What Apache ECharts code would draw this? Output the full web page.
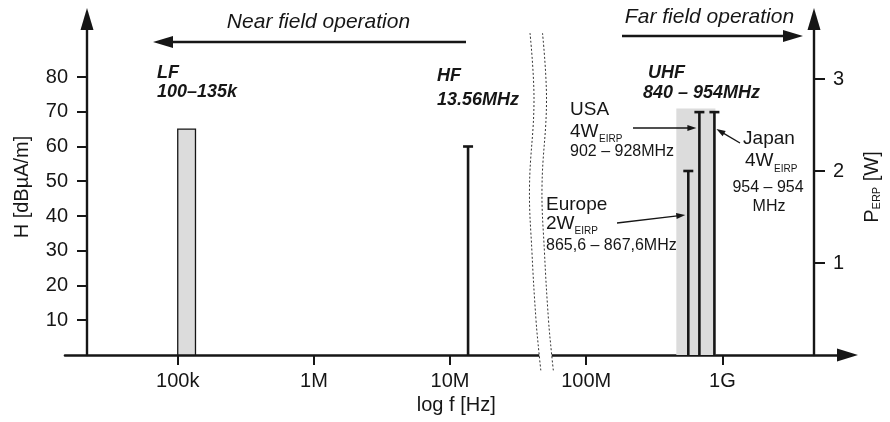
<!DOCTYPE html>
<html><head><meta charset="utf-8">
<script src="https://cdn.jsdelivr.net/npm/echarts@6/dist/echarts.min.js"></script>
<style>html,body{margin:0;padding:0;background:#fff}#c{width:890px;height:422px}</style>
</head><body><div id="c"></div>
<script>
const FONT = '"Liberation Sans", Arial, Helvetica, sans-serif';
const INK = '#161616';

// ---- data ----
const xTickFreqs = [1e5, 1e6, 1e7, 1e8, 1e9];
const xTickLabels = ['100k', '1M', '10M', '100M', '1G'];
const hTicks = [10, 20, 30, 40, 50, 60, 70, 80];
const pTicks = [1, 2, 3];
const lfBand = [100e3, 135e3];      // Hz
const lfField = 65;                 // dBµA/m
const hfFreq = 13.56e6;             // Hz
const hfField = 60;                 // dBµA/m
const uhfBand = [459e6, 889e6];     // Hz (as drawn)
const uhfBandTop = 2.68;            // W
const regions = ['Europe', 'USA', 'Japan'];
const regionFreqs = [562e6, 678e6, 874e6];  // Hz (as drawn)
const regionPower = [2.0, 2.64, 2.64];      // W ERP

const lg = Math.log10;
const chart = echarts.init(document.getElementById('c'), null, {renderer: 'canvas'});

function stem(params, api) {
  const a = api.coord([api.value(0), 0]);
  const b = api.coord([api.value(0), api.value(1)]);
  return {type: 'group', children: [
    {type: 'line', shape: {x1: a[0], y1: a[1], x2: b[0], y2: b[1]}, style: {stroke: INK, lineWidth: 2.6}},
    {type: 'line', shape: {x1: b[0] - 5, y1: b[1], x2: b[0] + 5, y2: b[1]}, style: {stroke: INK, lineWidth: 2.6}}
  ]};
}
function band(fill, stroke) {
  return function (params, api) {
    const a = api.coord([api.value(0), 0]);
    const b = api.coord([api.value(1), api.value(2)]);
    return {type: 'rect', shape: {x: a[0], y: b[1], width: b[0] - a[0], height: a[1] - b[1]},
      style: {fill: fill, stroke: stroke || null, lineWidth: stroke ? 1.3 : 0}};
  };
}
const xTickVals = xTickFreqs.map(lg);

chart.setOption({
  animation: false,
  backgroundColor: '#fff',
  textStyle: {fontFamily: FONT, color: INK},
  grid: {left: 65, right: 40.5, top: 19, bottom: 67},
  xAxis: {
    type: 'value', min: 4.172, max: 9.919,
    name: 'log f [Hz]', nameLocation: 'middle', nameGap: 36,
    nameTextStyle: {fontSize: 20, color: INK, fontFamily: FONT},
    axisLine: {onZero: false, symbol: ['none', 'triangle'], symbolSize: [13, 21], lineStyle: {color: INK, width: 2.6}},
    axisTick: {customValues: xTickVals, length: 10, lineStyle: {color: INK, width: 2}},
    axisLabel: {customValues: xTickVals, margin: 16, fontSize: 20, color: INK, fontFamily: FONT,
      formatter: v => { const i = xTickVals.findIndex(t => Math.abs(t - v) < 1e-6); return i >= 0 ? xTickLabels[i] : ''; }},
    splitLine: {show: false}
  },
  yAxis: [{
    type: 'value', min: 0, max: 96.69, position: 'left', offset: -22,
    name: 'H [dBµA/m]', nameLocation: 'middle', nameGap: 55,
    nameTextStyle: {fontSize: 20, color: INK, fontFamily: FONT},
    axisLine: {show: true, onZero: false, symbol: ['none', 'triangle'], symbolSize: [13, 22], lineStyle: {color: INK, width: 2.4}},
    axisTick: {show: true, customValues: hTicks, length: 10, lineStyle: {color: INK, width: 2}},
    axisLabel: {customValues: hTicks, margin: 19, fontSize: 20, color: INK, fontFamily: FONT},
    splitLine: {show: false}
  }, {
    type: 'value', min: 0, max: 3.652, position: 'right', offset: -33.5,
    name: '{p|P}{s|ERP}{p| [W]}', nameLocation: 'middle', nameGap: 48,
    nameTextStyle: {color: INK, fontFamily: FONT, rich: {
      p: {fontSize: 20, color: INK, fontFamily: FONT},
      s: {fontSize: 11, color: INK, fontFamily: FONT, verticalAlign: 'bottom', lineHeight: 6}
    }},
    axisLine: {show: true, onZero: false, symbol: ['none', 'triangle'], symbolSize: [13, 22], lineStyle: {color: INK, width: 2.4}},
    axisTick: {show: true, customValues: pTicks, length: 11, lineStyle: {color: INK, width: 2}},
    axisLabel: {customValues: pTicks, margin: 19, fontSize: 20, color: INK, fontFamily: FONT},
    splitLine: {show: false}
  }],
  series: [
    {type: 'custom', name: 'UHF band', xAxisIndex: 0, yAxisIndex: 1, z: 1,
      data: [[lg(uhfBand[0]), lg(uhfBand[1]), uhfBandTop]], encode: {x: [0, 1], y: 2},
      renderItem: band('#dcdcdc')},
    {type: 'custom', name: 'LF', xAxisIndex: 0, yAxisIndex: 0, z: 2,
      data: [[lg(lfBand[0]), lg(lfBand[1]), lfField]], encode: {x: [0, 1], y: 2},
      renderItem: band('#dcdcdc', INK)},
    {type: 'custom', name: 'HF', xAxisIndex: 0, yAxisIndex: 0, z: 3,
      data: [[lg(hfFreq), hfField]], encode: {x: 0, y: 1}, renderItem: stem},
    {type: 'custom', name: 'UHF', xAxisIndex: 0, yAxisIndex: 1, z: 3,
      data: regionFreqs.map((f, i) => ({name: regions[i], value: [lg(f), regionPower[i]]})),
      encode: {x: 0, y: 1}, renderItem: stem}
  ]
});

// ---- annotations ----
const px = f => chart.convertToPixel({xAxisIndex: 0}, lg(f));
function arrow(x1, y1, x2, y2, lw, hl, hw) {
  const dx = x2 - x1, dy = y2 - y1, L = Math.hypot(dx, dy), ux = dx / L, uy = dy / L;
  const bx = x2 - ux * hl, by = y2 - uy * hl;
  return [
    {type: 'line', z: 50, shape: {x1: x1, y1: y1, x2: bx + ux, y2: by + uy}, style: {stroke: INK, lineWidth: lw}},
    {type: 'polygon', z: 50, shape: {points: [[x2, y2], [bx - uy * hw, by + ux * hw], [bx + uy * hw, by - ux * hw]]}, style: {fill: INK}}
  ];
}
function txt(text, x, y, size, opt) {
  return {type: 'text', z: 60, x: x, y: y, style: Object.assign({
    text: text, fill: INK, fontSize: size, fontFamily: FONT, align: 'left', verticalAlign: 'middle'}, opt || {})};
}
const BI = {fontWeight: 'bold', fontStyle: 'italic'};
const IT = {fontStyle: 'italic'};
const xEU = px(regionFreqs[0]), xUS = px(regionFreqs[1]), xJP = px(regionFreqs[2]);

// axis break (dotted wavy lines)
const brk = [[530, 33], [534, 100], [529.5, 187], [532, 253], [536, 320], [539, 353], [541, 372]];
const brk2 = brk.map(p => [p[0] + 12.5, p[1]]);
const graphics = [
  {type: 'polygon', z: 40, shape: {points: brk.concat(brk2.slice().reverse())}, style: {fill: '#fff'}},
  {type: 'polyline', z: 41, shape: {points: brk, smooth: 0.4}, style: {stroke: '#333', lineWidth: 1, lineDash: [2, 2], fill: null}},
  {type: 'polyline', z: 41, shape: {points: brk2, smooth: 0.4}, style: {stroke: '#333', lineWidth: 1, lineDash: [2, 2], fill: null}},
  txt('Near field operation', 318.5, 22.5, 21, Object.assign({align: 'center'}, IT)),
  txt('Far field operation', 709.5, 17, 21, Object.assign({align: 'center'}, IT)),
  txt('LF', 157, 73.5, 18, BI),
  txt('100–135k', 157, 92.5, 18, BI),
  txt('HF', 437, 76, 18, BI),
  txt('13.56MHz', 437, 100, 18, BI),
  txt('UHF', 648, 73.5, 18, BI),
  txt('840 – 954MHz', 643, 93, 18, BI),
  txt('USA', 570, 110, 19),
  txt('4W', 570, 131.5, 19),
  txt('EIRP', 599, 139.5, 10),
  txt('902 – 928MHz', 570, 152, 16),
  txt('Europe', 546, 204.5, 19),
  txt('2W', 546, 224, 19),
  txt('EIRP', 574.5, 231.5, 10),
  txt('865,6 – 867,6MHz', 546, 246, 16),
  txt('Japan', 769, 138.5, 19, {align: 'center'}),
  txt('4W', 745, 161, 19),
  txt('EIRP', 774, 169.5, 10),
  txt('954 – 954', 768, 188, 16, {align: 'center'}),
  txt('MHz', 769, 207, 16, {align: 'center'})
].concat(
  arrow(466, 42, 153, 42, 2.5, 20, 6),
  arrow(622, 36, 803, 36, 2.5, 20, 6),
  arrow(633, 128, xUS - 3, 128, 1.3, 9, 3),
  arrow(617, 223, xEU - 3, 215, 1.3, 9, 3),
  arrow(740, 143, xJP + 2, 129, 1.3, 9, 3)
);
chart.setOption({graphic: {elements: graphics}});
</script>
</body></html>
